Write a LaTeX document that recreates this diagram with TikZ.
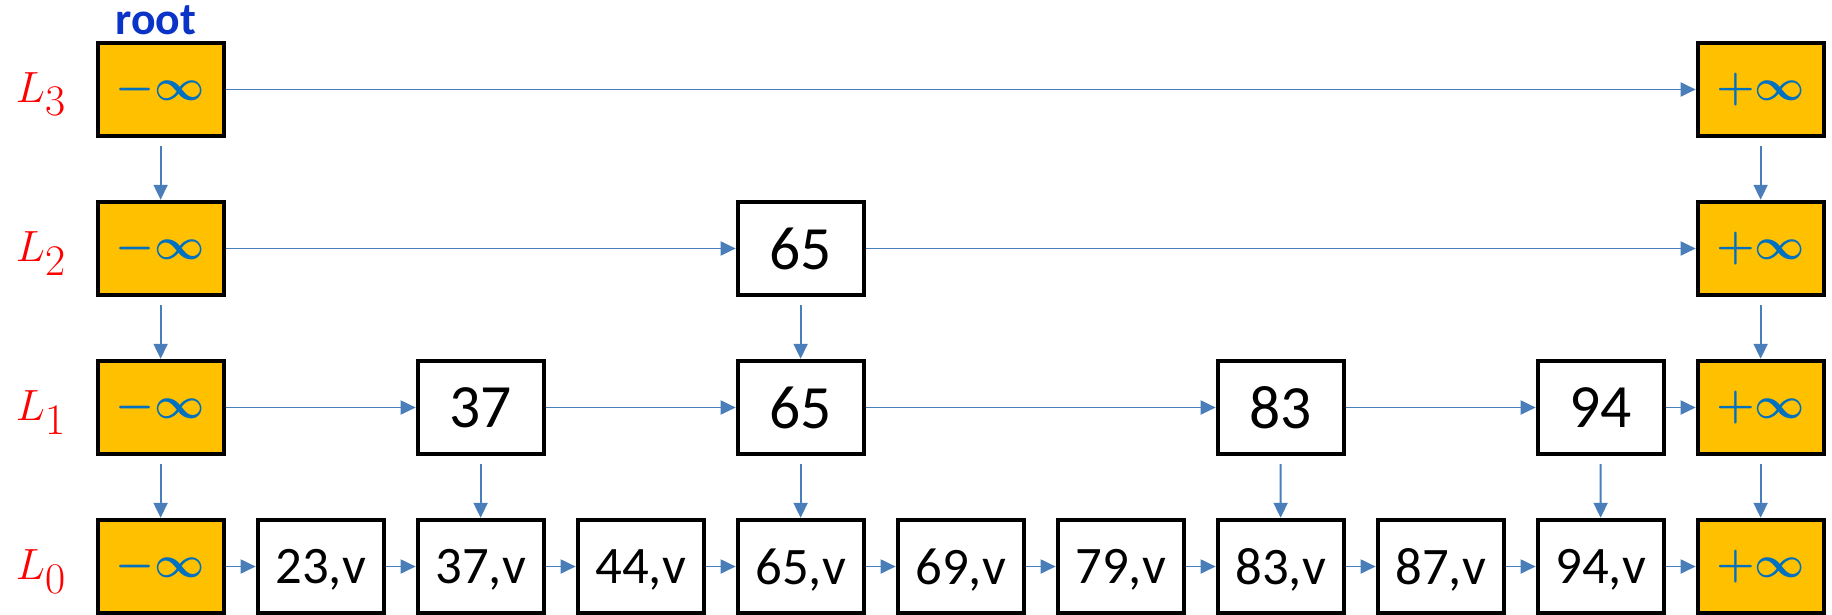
\documentclass[tikz,border=0pt]{standalone}
\usepackage{fontspec}
\setmainfont{Carlito}
\usetikzlibrary{arrows.meta}
\definecolor{sentinel}{RGB}{255,192,0}
\definecolor{hopblue}{RGB}{74,126,187}
\definecolor{infblue}{RGB}{0,112,192}
\definecolor{rootblue}{RGB}{10,51,200}
\definecolor{levelred}{RGB}{255,0,0}

\tikzset{
  cell/.style={draw=black, line width=2.2pt, minimum width=2.52cm,
               minimum height=1.87cm, inner sep=0pt,
               font=\fontsize{35}{40}\selectfont},
  leaf/.style={cell, text depth=0pt, font=\fontsize{30}{36}\selectfont},
  guard/.style={cell, fill=sentinel, text=infblue,
                font=\fontsize{28}{32}\selectfont\boldmath},
  level/.style={text=levelred, font=\fontsize{41}{46}\selectfont},
  hop/.style={draw=hopblue, line width=1.1pt,
              -{Triangle[length=0.3cm,width=0.28cm]}},
  drop/.style={hop, shorten <=0.16cm},
}

\begin{document}
\begin{tikzpicture}
  \useasboundingbox (0,0) rectangle (36.64,-12.3);

  % sentinels and level names
  \foreach \r/\y in {0/-11.33,1/-8.15,2/-4.97,3/-1.79} {
    \node[guard] (m\r) at (3.212,\y) {$-\infty$\hspace{0.4cm}};
    \node[guard] (p\r) at (35.212,\y) {$+\infty$\hspace{0.4cm}};
    \node[level] (lev\r) at (0.82,{\y-0.1}) {$L_\r$};
  }
  \node[anchor=base, text=rootblue, font=\fontsize{26}{30}\selectfont\bfseries]
    (root) at (3.12,-0.70) {root};

  % bottom list holds every key
  \foreach \k/\i in {23/1,37/2,44/3,65/4,69/5,79/6,83/7,87/8,94/9}
    \node[leaf] (b\k) at ({3.212+3.2*\i},-11.33) {\k,v};

  \node[cell] (c37) at (9.612,-8.15) {37};
  \node[cell] (c65) at (16.012,-8.15) {65};
  \node[cell] (c83) at (25.612,-8.15) {83};
  \node[cell] (c94) at (32.012,-8.15) {94};
  \node[cell] (d65) at (16.012,-4.97) {65};

  % forward links
  \draw[hop] (m3) -- (p3);
  \draw[hop] (m2) -- (d65);
  \draw[hop] (d65) -- (p2);
  \draw[hop] (m1) -- (c37);
  \draw[hop] (c37) -- (c65);
  \draw[hop] (c65) -- (c83);
  \draw[hop] (c83) -- (c94);
  \draw[hop] (c94) -- (p1);
  \draw[hop] (m0) -- (b23);
  \foreach \a/\b in {23/37,37/44,44/65,65/69,69/79,79/83,83/87,87/94}
    \draw[hop] (b\a) -- (b\b);
  \draw[hop] (b94) -- (p0);

  % down links
  \foreach \u/\l in {3/2,2/1,1/0} {
    \draw[drop] (m\u) -- (m\l);
    \draw[drop] (p\u) -- (p\l);
  }
  \draw[drop] (d65) -- (c65);
  \foreach \k in {37,65,83,94}
    \draw[drop] (c\k) -- (b\k);
\end{tikzpicture}
\end{document}
